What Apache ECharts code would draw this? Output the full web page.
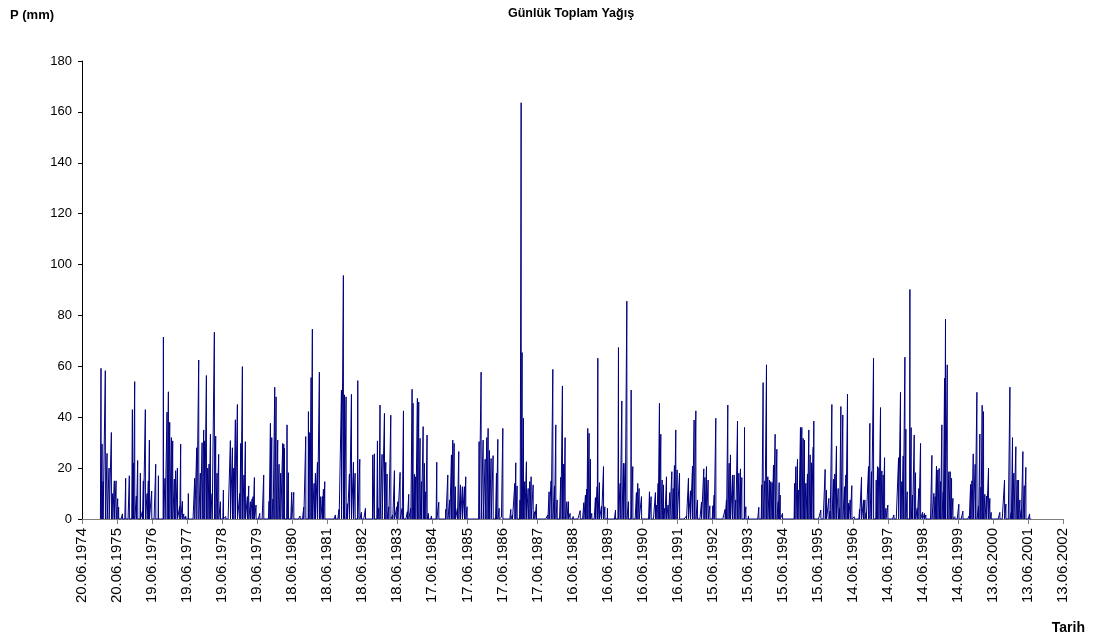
<!DOCTYPE html>
<html>
<head>
<meta charset="utf-8">
<title>Günlük Toplam Yağış</title>
<script src="https://cdn.jsdelivr.net/npm/echarts@6/dist/echarts.min.js"></script>
<style>
  html, body { margin: 0; padding: 0; background: #fff; }
  #chart { width: 1098px; height: 641px; }
</style>
</head>
<body>
<div id="chart"></div>
<script>
// Day numbers are counted from 20.06.1974 (day 0); the record is daily.
const recordFirstDay = 192;
const recordLastDay = 9893;

// Tick labels, one every 365 days starting at day 0
const tickLabels = [
  '20.06.1974', '20.06.1975', '19.06.1976', '19.06.1977', '19.06.1978',
  '19.06.1979', '18.06.1980', '18.06.1981', '18.06.1982', '18.06.1983',
  '17.06.1984', '17.06.1985', '17.06.1986', '17.06.1987', '16.06.1988',
  '16.06.1989', '16.06.1990', '16.06.1991', '15.06.1992', '15.06.1993',
  '15.06.1994', '15.06.1995', '14.06.1996', '14.06.1997', '14.06.1998',
  '14.06.1999', '13.06.2000', '13.06.2001', '13.06.2002'
];

// Rainy days (day number) and their daily totals in mm; every other day of the record is dry
const rainDay = [
  198, 209, 219, 243, 261, 282, 306, 320, 337, 355, 372, 382, 421, 455, 493, 525, 535, 549, 566, 580,
  608, 629, 639, 660, 678, 691, 702, 726, 768, 796, 848, 865, 886, 900, 914, 931, 945, 962, 976, 994,
  1018, 1028, 1046, 1060, 1077, 1081, 1108, 1174, 1195, 1216, 1233, 1251, 1268, 1278, 1296, 1310, 1324, 1338, 1355, 1379,
  1393, 1407, 1424, 1442, 1473, 1497, 1546, 1567, 1581, 1598, 1619, 1643, 1654, 1671, 1688, 1702, 1723, 1737, 1754, 1772,
  1782, 1796, 1813, 1852, 1893, 1949, 1963, 1977, 1990, 2008, 2022, 2039, 2053, 2070, 2091, 2102, 2109, 2136, 2150, 2185,
  2206, 2272, 2310, 2331, 2359, 2373, 2387, 2400, 2418, 2432, 2453, 2473, 2487, 2505, 2515, 2529, 2640, 2678, 2703, 2723,
  2734, 2751, 2765, 2786, 2807, 2828, 2845, 2873, 2894, 2911, 2953, 3029, 3046, 3078, 3092, 3105, 3126, 3151, 3165, 3178,
  3196, 3217, 3237, 3255, 3279, 3290, 3314, 3335, 3349, 3390, 3404, 3425, 3439, 3449, 3463, 3477, 3494, 3508, 3522, 3536,
  3554, 3567, 3581, 3595, 3609, 3640, 3696, 3717, 3738, 3790, 3811, 3831, 3849, 3863, 3877, 3890, 3911, 3925, 3943, 3963,
  3984, 3998, 4012, 4137, 4158, 4179, 4200, 4217, 4231, 4245, 4262, 4283, 4318, 4332, 4346, 4370, 4384, 4467, 4484, 4509,
  4519, 4533, 4564, 4575, 4585, 4599, 4613, 4630, 4648, 4665, 4679, 4700, 4717, 4734, 4853, 4866, 4887, 4905, 4922, 4936,
  4950, 4988, 5005, 5019, 5033, 5051, 5068, 5085, 5117, 5190, 5228, 5245, 5259, 5269, 5283, 5297, 5311, 5349, 5367, 5374,
  5391, 5412, 5433, 5447, 5474, 5558, 5589, 5606, 5624, 5641, 5658, 5676, 5693, 5721, 5738, 5776, 5790, 5804, 5829, 5912,
  5929, 5974, 5988, 6002, 6016, 6030, 6044, 6058, 6072, 6089, 6106, 6124, 6145, 6159, 6172, 6186, 6200, 6225, 6297, 6318,
  6339, 6360, 6377, 6395, 6412, 6454, 6478, 6489, 6506, 6523, 6541, 6572, 6586, 6603, 6700, 6714, 6728, 6742, 6756, 6777,
  6794, 6811, 6829, 6843, 6860, 6874, 6902, 6916, 6943, 7051, 7082, 7096, 7114, 7131, 7145, 7162, 7176, 7190, 7204, 7221,
  7239, 7253, 7263, 7274, 7298, 7423, 7437, 7454, 7468, 7485, 7499, 7513, 7527, 7541, 7558, 7572, 7586, 7600, 7617, 7624,
  7697, 7742, 7756, 7781, 7794, 7812, 7829, 7843, 7860, 7878, 7892, 7906, 7926, 7944, 7958, 7975, 7985, 8003, 8020, 8045,
  8100, 8121, 8142, 8156, 8170, 8194, 8208, 8225, 8246, 8274, 8288, 8302, 8319, 8333, 8347, 8361, 8375, 8395, 8458, 8507,
  8527, 8541, 8555, 8573, 8583, 8597, 8625, 8638, 8652, 8670, 8684, 8701, 8718, 8736, 8757, 8777, 8791, 8854, 8875, 8888,
  8902, 8916, 8930, 8944, 8958, 8972, 8986, 8996, 9014, 9031, 9045, 9059, 9073, 9093, 9135, 9177, 9243, 9257, 9271, 9285,
  9305, 9323, 9340, 9354, 9365, 9378, 9392, 9406, 9424, 9444, 9458, 9472, 9562, 9611, 9625, 9667, 9681, 9694, 9708, 9729,
  9743, 9757, 9771, 9785, 9802, 9816, 9833, 9872
];
const rainMm = [
  59.2, 29.5, 14.7, 58.3, 25.8, 20, 34, 10, 15, 15, 8, 4.6, 2, 16, 17, 43, 22, 54, 9, 23,
  18, 3, 15, 43, 10, 15, 31, 11, 21.5, 17, 71.5, 16, 42, 50, 38, 32, 30.7, 15.7, 19, 20,
  5, 29.4, 7, 2, 1, 1, 10, 16, 28, 62.5, 18, 30, 35, 30.7, 56.4, 20, 21.6, 33.3, 10, 73.4,
  32.6, 18, 25.4, 6.8, 11.4, 1, 30.8, 28, 20, 39, 45, 10, 29.7, 59.9, 17.3, 30.4, 8.8, 13, 6.8, 7.9,
  8.8, 16.3, 5.5, 2.2, 17.3, 7, 37.6, 32, 7.9, 51.8, 48, 31, 21.5, 18, 29.7, 29.4, 27.8, 37, 18.2, 10.5,
  10.5, 1.2, 4.6, 32.4, 42.2, 34, 55.6, 74.6, 14, 18, 22.3, 57.7, 8.8, 8.8, 11.7, 14.7, 1.6, 3.8, 50.7, 95.7,
  48.8, 48, 6, 17.7, 49, 22.3, 18, 54.4, 23.5, 2.6, 4.2, 25.2, 25.6, 30.7, 4.2, 44.8, 25.4, 41.5, 22.3, 17.7,
  4.8, 40.8, 1.6, 19, 4.8, 6.8, 18.3, 4.2, 42.5, 2.9, 9.7, 4.2, 51, 45.5, 17.6, 16.6, 47.4, 46, 31.7, 14.7,
  36.3, 21.9, 10.7, 33, 2.2, 1.2, 22.3, 6.6, 0.7, 3.8, 17.3, 7.5, 25.2, 31, 29.7, 12.7, 4.2, 26.5, 13.4, 12.7,
  12.7, 16.6, 4.8, 30.4, 57.7, 31, 23.5, 32, 35.6, 26.9, 23.8, 24.9, 18, 31.3, 4.2, 0.7, 35.6, 3.8, 1.6, 14,
  22.1, 13, 7.5, 163.6, 65.4, 39.6, 14.7, 22.5, 12, 14.7, 16.6, 13.4, 2.9, 5.9, 1.6, 10.7, 15, 58.8, 13, 37,
  7.5, 16.4, 52.3, 21.6, 32, 6.8, 6.8, 2.2, 1, 3.3, 6.4, 9.4, 11.8, 35.6, 33.7, 23.5, 2.2, 8.4, 12.7, 63.2,
  14.3, 5.1, 20.6, 4.8, 4.2, 3.5, 67.4, 14, 46.4, 21.9, 21.9, 85.6, 6.8, 50.7, 20.6, 10.4, 14, 12, 8.8, 10.7,
  8.8, 10.4, 5.5, 14, 45.5, 33.3, 15.3, 13.4, 4.2, 16.6, 5.5, 10.4, 18.6, 12, 21, 35, 19.3, 18, 1.2, 16,
  11.1, 20.8, 38.9, 42.5, 7.5, 6.6, 19.7, 16.3, 20.6, 15.3, 5.2, 5.2, 9.4, 39.6, 3.8, 7.5, 44.8, 21.9, 25.2, 17.3,
  17.3, 7.5, 38.5, 18, 19.7, 16.3, 36, 4.8, 1.2, 4.6, 13.4, 53.6, 15, 60.6, 16.6, 15.3, 14.7, 14.3, 21.2, 33.3,
  27.4, 6.8, 14.3, 9.4, 2.2, 14, 20.6, 23.5, 11.4, 36, 36, 31.7, 31, 14, 17.7, 35, 25.2, 22.1, 28.2, 38.5,
  3.5, 19.5, 11.4, 8.1, 3.1, 45, 15.6, 17.7, 28.7, 12, 4.2, 44.2, 40.9, 12.7, 17.3, 49.1, 6.2, 7.5, 13.1, 0.9,
  3.8, 16.4, 7.5, 7.5, 2.6, 20.6, 37.6, 18.6, 63.2, 15.3, 20.6, 20.2, 43.8, 18.9, 17.3, 24.1, 4.2, 5.5, 1.6, 24.1,
  49.8, 14.7, 24.8, 63.6, 35.3, 10.7, 90.2, 35.9, 9.4, 33, 18.2, 4.2, 12, 29.7, 2.6, 2.2, 1.6, 25, 10.1, 8.8,
  20.8, 19.3, 19.9, 14.7, 37, 10.7, 55.3, 78.5, 60.6, 18.6, 18.6, 16, 8.1, 0.9, 5.8, 3.1, 1.2, 13.6, 15, 25.6,
  21.5, 49.8, 5.1, 33.4, 12.5, 44.7, 42.2, 9.7, 9, 20, 8.1, 2.6, 2.6, 15.3, 5.9, 51.8, 2.6, 32, 18, 28.4,
  15.3, 15.3, 7.5, 3.5, 26.5, 13.1, 20.3, 2
];

// Build the daily series: rainy days carry their totals, all other days are 0 mm
const rainByDay = new Map();
rainDay.forEach((d, i) => rainByDay.set(d, rainMm[i]));
const daily = [];
for (let d = recordFirstDay; d <= recordLastDay; d++) {
  daily.push([d, rainByDay.has(d) ? rainByDay.get(d) : 0]);
}

const FONT = 'Arial, "Liberation Sans", sans-serif';
const chart = echarts.init(document.getElementById('chart'), null, { renderer: 'canvas' });

chart.setOption({
  animation: false,
  backgroundColor: '#ffffff',
  grid: { left: 82, right: 35, top: 61, bottom: 122, containLabel: false },
  graphic: [
    {
      type: 'text', left: 10, top: 9,
      style: { text: 'P (mm)', font: 'bold 13px ' + FONT, fill: '#000' }
    },
    {
      type: 'text', x: 571, y: 14,
      style: { text: 'Günlük Toplam Yağış', font: 'bold 12.5px ' + FONT, fill: '#000', align: 'center', verticalAlign: 'middle' }
    },
    {
      type: 'text', x: 1085, y: 628,
      style: { text: 'Tarih', font: 'bold 14px ' + FONT, fill: '#000', align: 'right', verticalAlign: 'middle' }
    }
  ],
  xAxis: {
    type: 'value',
    min: 0,
    max: 365 * (tickLabels.length - 1),
    interval: 365,
    splitLine: { show: false },
    axisLine: { show: true, onZero: false, lineStyle: { color: '#808080', width: 1 } },
    axisTick: { show: true, inside: false, length: 5, lineStyle: { color: '#808080' } },
    axisLabel: {
      rotate: 90,
      margin: 9,
      color: '#000',
      fontFamily: FONT,
      fontSize: 15,
      showMinLabel: true,
      showMaxLabel: true,
      formatter: v => tickLabels[Math.round(v / 365)] || ''
    }
  },
  yAxis: {
    type: 'value',
    min: 0,
    max: 180,
    interval: 20,
    splitLine: { show: false },
    axisLine: { show: true, lineStyle: { color: '#000', width: 1 } },
    axisTick: { show: true, inside: false, length: 4, lineStyle: { color: '#000' } },
    axisLabel: { margin: 10, color: '#000', fontFamily: FONT, fontSize: 13 }
  },
  series: [
    {
      type: 'line',
      data: daily,
      showSymbol: false,
      symbol: 'none',
      sampling: null,
      lineStyle: { color: '#000080', width: 1 },
      silent: true,
      z: 3
    }
  ]
});
</script>
</body>
</html>
